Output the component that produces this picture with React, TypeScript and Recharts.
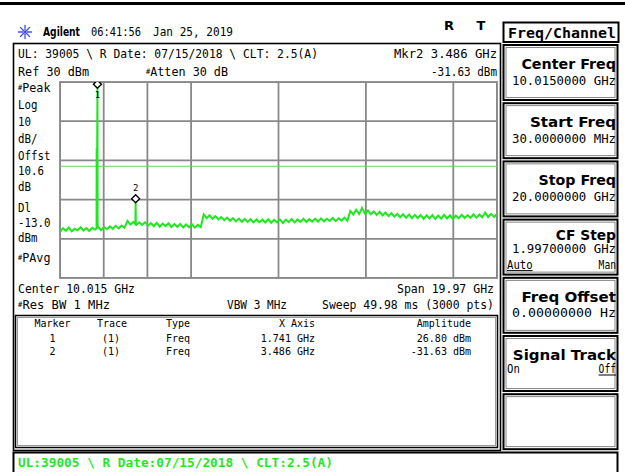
import React from "react";
import { LineChart, Line, XAxis, YAxis, CartesianGrid, ReferenceLine, ReferenceDot } from "recharts";

const START_GHZ = 0.03;
const STOP_GHZ = 20;
const SWEEP_STEP_GHZ = 0.134;
const REF_DBM = 30;
const BOTTOM_DBM = -70;
const DISPLAY_LINE_DBM = -13;

const gridFreqs = [0.03, 2.027, 4.024, 6.021, 8.018, 10.015, 12.012, 14.009, 16.006, 18.003, 20];
const gridLevels = [30, 20, 10, 0, -10, -20, -30, -40, -50, -60, -70];

// noise floor, one value per sweep step
const noiseDbm = [
  -46.4, -44.6, -45.9, -44.3, -46.2, -44.9, -45.7, -44.1, -45.8, -44.5,
  -46.0, -44.4, -45.3, -43.9, -45.6, -44.0, -45.1, -43.6, -44.9, -43.4,
  -44.7, -43.2, -44.3,
  -40.9, -42.7, -41.4, -43.0, -41.6, -42.9, -41.5, -43.3, -42.0, -43.6,
  -41.9, -43.8, -42.3, -43.5, -42.1, -44.0, -42.5, -43.9, -42.4, -44.2,
  -42.7, -44.1, -42.6, -44.3, -42.9, -44.0,
  -37.6, -39.5, -38.0, -39.8, -38.4, -40.1, -38.9, -40.5, -39.2, -40.8,
  -39.5, -41.1, -39.7, -41.3, -39.9, -41.4, -40.0, -41.6, -40.1, -41.5,
  -40.2, -41.7, -40.0, -41.8, -40.3, -41.6, -40.1, -41.9, -40.2, -41.5,
  -39.9, -41.6, -40.1, -41.4, -39.8, -41.5, -40.0, -41.2, -39.7, -41.3,
  -39.6, -41.1, -39.8, -40.9, -39.4, -41.0, -39.5, -40.7, -39.2, -40.8,
  -35.8, -37.6, -35.2, -37.4, -34.3, -37.1, -35.6, -37.5, -36.0, -37.8,
  -36.2, -38.1, -36.6, -38.4, -36.9, -38.7, -37.3, -39.0, -37.5, -39.3,
  -37.6, -39.5, -37.8, -39.4, -37.9, -39.8, -38.0, -39.6, -37.9, -39.9,
  -38.1, -39.7, -37.8, -39.6, -38.0, -39.9, -38.2, -39.5, -37.7, -39.4,
  -37.9, -39.3, -37.5, -39.2, -37.6, -39.0, -36.6, -38.9, -37.3, -38.8,
  -37.4,
];

// signals sticking out of the floor
const spurs = [
  { f: 1.7, dbm: -44.8 },
  { f: 1.706, dbm: -3.7 },
  { f: 1.712, dbm: -44.1 },
  { f: 1.741, dbm: 26.8 },
  { f: 1.752, dbm: -44.6 },
  { f: 3.474, dbm: -42.4 },
  { f: 3.486, dbm: -31.63 },
  { f: 3.498, dbm: -42.9 },
];

const markers = [
  { id: "1", f: 1.741, dbm: 26.8, below: true },
  { id: "2", f: 3.486, dbm: -31.63, below: false },
];

const tableHead = ["Marker", "Trace", "Type", "X Axis", "Amplitude"];
const tableRows = [
  ["1", "(1)", "Freq", "1.741 GHz", "26.80 dBm"],
  ["2", "(1)", "Freq", "3.486 GHz", "-31.63 dBm"],
];

const leftLabels = ["#Peak", "Log", "10", "dB/", "Offst", "10.6", "dB", "Dl", "-13.0", "dBm", "#PAvg"];
const leftBase = [92, 109, 126, 143, 160, 175, 191, 212, 227, 242, 262];

const softkeys = [
  { title: "Center Freq", value: "10.0150000 GHz" },
  { title: "Start Freq", value: "30.0000000 MHz" },
  { title: "Stop Freq", value: "20.0000000 GHz" },
  { title: "CF Step", value: "1.99700000 GHz", left: "Auto", right: "Man", under: "left" },
  { title: "Freq Offset", value: "0.00000000  Hz" },
  { title: "Signal Track", left: "On", right: "Off", under: "right" },
  { title: "" },
];

const trace = [
  ...noiseDbm.map((v, i) => ({ f: +(START_GHZ + i * SWEEP_STEP_GHZ).toFixed(3), dbm: v })),
  ...spurs,
].sort((a, b) => a.f - b.f);

const MONO = "'DejaVu Sans Mono', monospace";
const SANS = "'DejaVu Sans', sans-serif";
const GREEN = "#1fe81f";

type TxtProps = {
  x: number;
  y: number;
  s: string;
  size?: number;
  w?: number;
  cw?: number;
  anchor?: "start" | "middle" | "end";
  bold?: boolean;
  fill?: string;
  family?: string;
};

const Txt = ({ x, y, s, size = 13, w, cw, anchor = "start", bold = false, fill = "#000", family = MONO }: TxtProps) => {
  const len = w ?? (cw ? s.length * cw : undefined);
  const hash = s.startsWith("#");
  return (
    <text
      x={x}
      y={y}
      fontSize={size}
      fontFamily={family}
      fontWeight={bold ? 700 : 400}
      textAnchor={anchor}
      fill={fill}
      textLength={len}
      lengthAdjust={len ? "spacingAndGlyphs" : undefined}
    >
      {hash ? (
        <>
          <tspan fontSize={size * 0.6} dy={-2}>#</tspan>
          <tspan dy={2}>{s.slice(1)}</tspan>
        </>
      ) : (
        s
      )}
    </text>
  );
};

const Logo = () => (
  <g stroke="#3d4fe6" strokeWidth={1.3} strokeLinecap="round">
    {[0, 45, 90, 135, 180, 225, 270, 315].map((a) => {
      const r = (a * Math.PI) / 180;
      return (
        <line key={a} x1={25 + 2.2 * Math.cos(r)} y1={32 + 2.2 * Math.sin(r)} x2={25 + 6.5 * Math.cos(r)} y2={32 + 6.5 * Math.sin(r)} />
      );
    })}
    <circle cx={25} cy={32} r={1} fill="#3d4fe6" />
  </g>
);

const Softkey = ({ k, i }: { k: (typeof softkeys)[number]; i: number }) => {
  const top = 45 + i * 58.2;
  const three = !!k.value && !!k.left;
  return (
    <g>
      <rect x={503.5} y={top} width={114} height={55} fill="#fff" stroke="#000" strokeWidth={2} />
      <rect x={506} y={top + 2.5} width={109} height={50} fill="none" stroke="#666" strokeWidth={0.8} />
      {k.title && (
        <Txt x={616} y={top + (three ? 20 : 24)} s={k.title} size={14} bold family={SANS} anchor="end" cw={8.6} />
      )}
      {k.value && <Txt x={616} y={top + (three ? 33 : 39.5)} s={k.value} size={12} anchor="end" w={104} />}
      {k.left && (
        <>
          <Txt x={507} y={top + (three ? 49 : 37)} s={k.left} size={12} w={k.left.length * 6.4} />
          <Txt x={616} y={top + (three ? 49 : 37)} s={k.right!} size={12} anchor="end" w={k.right!.length * 5.8} />
          {k.under === "left" ? (
            <line x1={507} x2={507 + k.left.length * 6.4} y1={top + (three ? 51 : 39)} y2={top + (three ? 51 : 39)} stroke="#000" />
          ) : (
            <line x1={616 - k.right!.length * 5.8} x2={616} y1={top + 39} y2={top + 39} stroke="#000" />
          )}
        </>
      )}
    </g>
  );
};

const markerShape = (id: string, below: boolean) => (p: any) => {
  const { cx, cy } = p;
  return (
    <g>
      <path
        d={`M${cx} ${cy} L${cx + 4} ${cy - 4} L${cx} ${cy - 8} L${cx - 4} ${cy - 4} Z`}
        fill="#fff"
        stroke="#000"
        strokeWidth={1.4}
      />
      <text x={cx} y={below ? cy + 10 : cy - 12} fontSize={9} fontFamily={MONO} textAnchor="middle" fill="#000">
        {id}
      </text>
    </g>
  );
};

const Screen = () => (
  <svg width={625} height={472} style={{ position: "absolute", left: 0, top: 0 }}>
    <rect x={0} y={0} width={625} height={472} fill="#fff" />
    <rect x={0} y={2} width={625} height={3} fill="#000" />

    <Logo />
    <Txt x={43} y={36} s="Agilent" bold family={SANS} w={37} />
    <Txt x={91} y={36} s="06:41:56" w={50} />
    <Txt x={153} y={36} s="Jan 25, 2019" w={80} />
    <Txt x={449} y={30} s="R" bold family={SANS} anchor="middle" />
    <Txt x={481} y={30} s="T" bold family={SANS} anchor="middle" />

    <rect x={503.5} y={22.5} width={115} height={19.5} fill="#fff" stroke="#000" strokeWidth={2} />
    <Txt x={508} y={37.5} s="Freq/Channel" size={14} bold w={108} />

    <rect x={13.5} y={43.5} width={487} height={407} fill="none" stroke="#000" strokeWidth={1.6} />
    <rect x={60} y={82} width={437} height={196} fill="none" stroke="#888" strokeWidth={1.8} />

    <Txt x={18} y={58} s="UL: 39005 \ R Date: 07/15/2018 \ CLT: 2.5(A)" w={300} />
    <Txt x={497} y={58} s="Mkr2 3.486 GHz" anchor="end" w={103} />
    <Txt x={18} y={76} s="Ref 30 dBm" w={71} />
    <Txt x={146} y={76} s="#Atten 30 dB" w={82} />
    <Txt x={497} y={76} s="-31.63 dBm" anchor="end" w={66} />

    {leftLabels.map((s, i) => (
      <Txt key={s + i} x={18} y={leftBase[i]} s={s} cw={6.5} />
    ))}

    <Txt x={18} y={293} s="Center 10.015 GHz" w={117} />
    <Txt x={494} y={293} s="Span 19.97 GHz" anchor="end" w={97} />
    <Txt x={18} y={309} s="#Res BW 1 MHz" w={92} />
    <Txt x={227} y={309} s="VBW 3 MHz" w={60} />
    <Txt x={494} y={309} s="Sweep 49.98 ms (3000 pts)" anchor="end" w={172} />

    <rect x={15.5} y={315.5} width={482} height={132} fill="none" stroke="#000" strokeWidth={1.5} />
    <rect x={17.5} y={317.5} width={478} height={128} fill="none" stroke="#999" strokeWidth={1} />
    <Txt x={52.5} y={327} s={tableHead[0]} size={10} anchor="middle" />
    <Txt x={112} y={327} s={tableHead[1]} size={10} anchor="middle" />
    <Txt x={166} y={327} s={tableHead[2]} size={10} />
    <Txt x={315} y={327} s={tableHead[3]} size={10} anchor="end" />
    <Txt x={471} y={327} s={tableHead[4]} size={10} anchor="end" />
    {tableRows.map((r, i) => (
      <g key={r[0]}>
        <Txt x={52.5} y={342 + i * 13} s={r[0]} size={10} anchor="middle" />
        <Txt x={111} y={342 + i * 13} s={r[1]} size={10} anchor="middle" />
        <Txt x={166} y={342 + i * 13} s={r[2]} size={10} />
        <Txt x={315} y={342 + i * 13} s={r[3]} size={10} anchor="end" />
        <Txt x={471} y={342 + i * 13} s={r[4]} size={10} anchor="end" />
      </g>
    ))}

    {softkeys.map((k, i) => (
      <Softkey key={i} k={k} i={i} />
    ))}

    <rect x={13.5} y={452.5} width={604} height={30} fill="#fff" stroke="#000" strokeWidth={2} />
    <Txt x={18} y={467} s="UL:39005 \ R Date:07/15/2018 \ CLT:2.5(A)" bold fill={GREEN} w={315} />
  </svg>
);

export default function App() {
  return (
    <div style={{ position: "absolute", left: 0, top: 0, width: 625, height: 472, background: "#fff" }}>
      <Screen />
      <div style={{ position: "absolute", left: 60, top: 82 }}>
        <LineChart width={437} height={196} data={trace} margin={{ top: 0, right: 0, bottom: 0, left: 0 }}>
          <XAxis dataKey="f" type="number" domain={[START_GHZ, STOP_GHZ]} ticks={gridFreqs} allowDataOverflow hide />
          <YAxis type="number" domain={[BOTTOM_DBM, REF_DBM]} ticks={gridLevels} allowDataOverflow hide />
          <CartesianGrid stroke="#888" strokeWidth={1.8} />
          <ReferenceLine y={DISPLAY_LINE_DBM} stroke="#55dd55" strokeWidth={1} />
          <Line
            dataKey="dbm"
            type="linear"
            stroke={GREEN}
            strokeWidth={2}
            dot={false}
            isAnimationActive={false}
          />
          {markers.map((m) => (
            <ReferenceDot key={m.id} x={m.f} y={m.dbm} r={4} shape={markerShape(m.id, m.below)} />
          ))}
        </LineChart>
      </div>
    </div>
  );
}
